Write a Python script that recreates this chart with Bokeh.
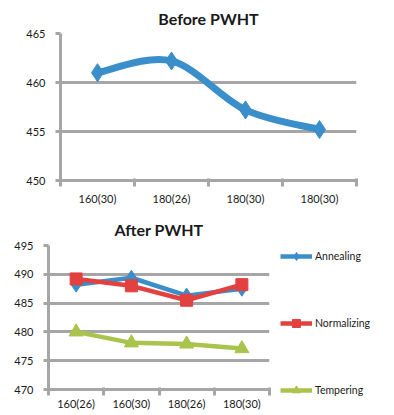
from bokeh.plotting import figure
from bokeh.models import Range1d, FixedTicker, Legend, LegendItem, LinearAxis
from bokeh.embed import file_html
from bokeh.resources import INLINE

# ---- data ----
before_labels = ["160(30)", "180(26)", "180(30)", "180(30)"]
before_values = [461.0, 462.2, 457.2, 455.2]

after_labels = ["160(26)", "160(30)", "180(26)", "180(30)"]
annealing = [488.2, 489.4, 486.3, 487.5]
normalizing = [489.2, 488.0, 485.5, 488.2]
tempering = [480.0, 478.1, 477.9, 477.1]

BLUE = "#3a8fca"
RED = "#e2413f"
GREEN = "#a8c44c"
GRID = "#a6a6a6"
TXT = "#1a1a1a"
FONT = "Lato"


def style(p, labels, yticks, label_standoff):
    n = len(labels)
    p.xgrid.visible = False
    p.ygrid.grid_line_color = GRID
    p.ygrid.grid_line_width = 3
    p.ygrid.ticker = FixedTicker(ticks=yticks)
    p.outline_line_color = None
    # first x axis: boundary ticks only
    ax0 = p.xaxis[0]
    ax0.ticker = FixedTicker(ticks=[i + 0.5 for i in range(n + 1)], minor_ticks=[])
    ax0.major_label_overrides = {i + 0.5: " " for i in range(n + 1)}
    ax0.major_label_text_font_size = "2px"
    ax0.axis_line_color = GRID
    ax0.axis_line_width = 3
    ax0.major_tick_line_color = GRID
    ax0.major_tick_line_width = 3
    ax0.major_tick_out = 6
    ax0.major_tick_in = 2
    ax0.minor_tick_line_color = None
    ax0.major_label_standoff = 0
    # second x axis: category labels
    ax1 = LinearAxis(ticker=FixedTicker(ticks=[i + 1 for i in range(n)], minor_ticks=[]))
    ax1.major_label_overrides = {i + 1: lab for i, lab in enumerate(labels)}
    ax1.axis_line_color = None
    ax1.major_tick_line_color = None
    ax1.minor_tick_line_color = None
    ax1.major_label_standoff = label_standoff
    ax1.major_label_text_font = FONT
    ax1.major_label_text_font_size = "11px"
    ax1.major_label_text_color = TXT
    p.add_layout(ax1, "below")
    ay = p.yaxis[0]
    ay.axis_line_color = GRID
    ay.axis_line_width = 3
    ay.major_label_text_font = FONT
    ay.major_label_text_font_size = "11px"
    ay.major_label_text_color = TXT
    ay.ticker = FixedTicker(ticks=yticks, minor_ticks=[])
    ay.major_tick_line_color = GRID
    ay.major_tick_line_width = 3
    ay.major_tick_out = 5
    ay.major_tick_in = 0
    ay.minor_tick_line_color = None
    ay.major_label_standoff = 10
    p.title.text_font = FONT
    p.title.text_font_size = "16px"
    p.title.text_font_style = "bold"
    p.title.text_color = TXT
    p.title.align = "center"
    p.title.standoff = 11


# ---- top chart ----
p1 = figure(width=390, height=205, output_backend="svg", toolbar_location=None,
            title="Before PWHT", x_range=Range1d(0.5, 4.5), y_range=Range1d(450, 465),
            min_border_left=60, min_border_right=34, min_border_top=33, min_border_bottom=24)
p1.frame_width = 296
p1.frame_height = 147
style(p1, before_labels, [450, 455, 460, 465], -6)

bx = [i + 1 for i in range(len(before_values))]
by = before_values
# smoothed curve through the data points
x0s, y0s, x1s, y1s, cx0, cy0, cx1, cy1 = [], [], [], [], [], [], [], []
n = len(bx)
for i in range(n - 1):
    pm = i - 1 if i > 0 else i
    pp = i + 2 if i + 2 < n else i + 1
    x0s.append(bx[i]); y0s.append(by[i]); x1s.append(bx[i + 1]); y1s.append(by[i + 1])
    cx0.append(bx[i] + (bx[i + 1] - bx[pm]) / 6); cy0.append(by[i] + (by[i + 1] - by[pm]) / 6)
    cx1.append(bx[i + 1] - (bx[pp] - bx[i]) / 6); cy1.append(by[i + 1] - (by[pp] - by[i]) / 6)
p1.bezier(x0=x0s, y0=y0s, x1=x1s, y1=y1s, cx0=cx0, cy0=cy0, cx1=cx1, cy1=cy1,
          line_color=BLUE, line_width=7)
p1.scatter(bx, by, marker="diamond", size=18, fill_color=BLUE, line_color=BLUE)

# ---- bottom chart ----
p2 = figure(width=390, height=207, output_backend="svg", toolbar_location=None,
            title="After PWHT", x_range=Range1d(0.5, 4.5), y_range=Range1d(470, 495),
            min_border_left=48, min_border_right=121, min_border_top=38, min_border_bottom=25)
p2.frame_width = 221
p2.frame_height = 144
style(p2, after_labels, [470, 475, 480, 485, 490, 495], -10)
p2.title.standoff = 14

ax_ = [i + 1 for i in range(len(annealing))]
items = []
for name, vals, col, mk, sz in [("Annealing", annealing, BLUE, "diamond", 15),
                                ("Normalizing", normalizing, RED, "square", 12),
                                ("Tempering", tempering, GREEN, "triangle", 14)]:
    l = p2.line(ax_, vals, line_color=col, line_width=4.5)
    s = p2.scatter(ax_, vals, marker=mk, size=sz, fill_color=col, line_color=col)
    items.append(LegendItem(label=name, renderers=[l, s]))

legend = Legend(items=items, location=(11, -11), spacing=47, glyph_width=32,
                glyph_height=20, label_height=20, label_standoff=3, padding=0,
                margin=0, border_line_color=None, background_fill_alpha=0,
                label_text_font=FONT, label_text_font_size="10.5px", label_text_color=TXT)
p2.add_layout(legend, "right")

open("out.html", "w").write(file_html([p1, p2], INLINE))
